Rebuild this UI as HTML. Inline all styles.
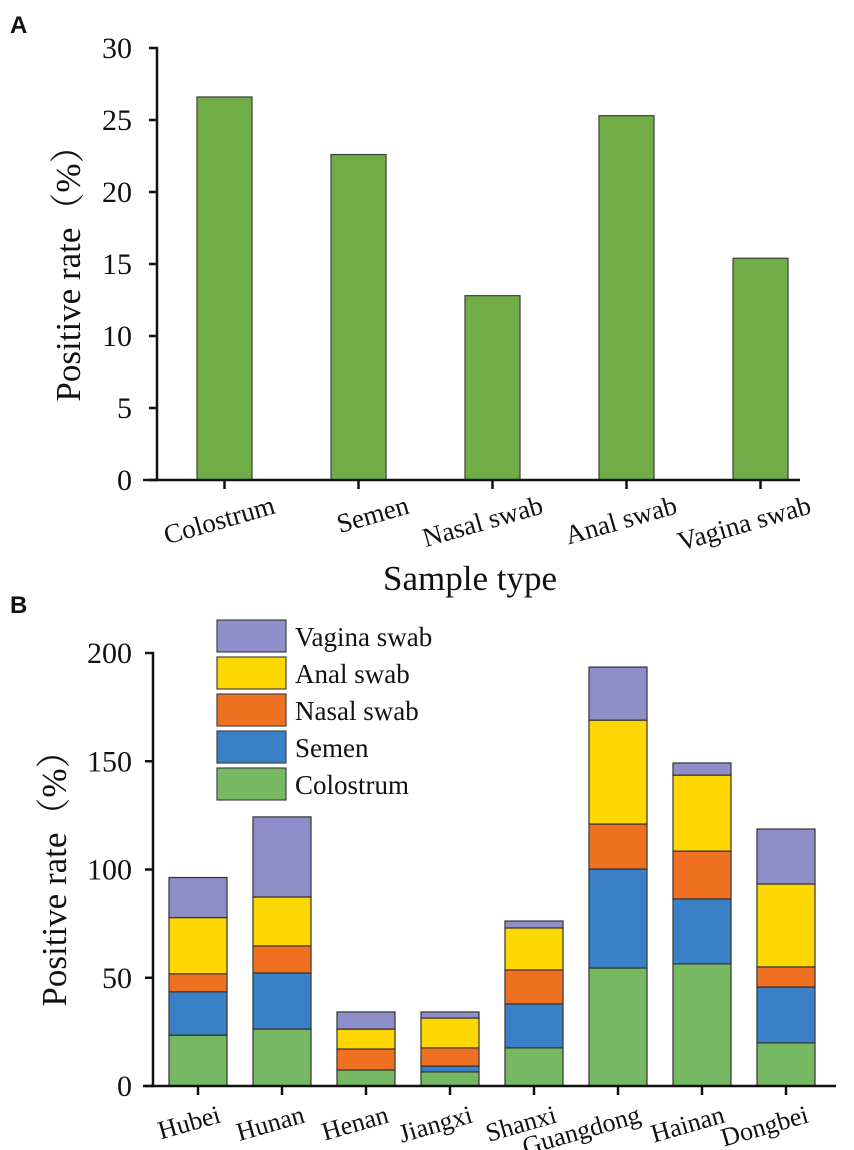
<!DOCTYPE html>
<html><head><meta charset="utf-8"><style>
body{margin:0;background:#fff;width:854px;height:1150px;overflow:hidden}
svg{display:block}
text{font-family:"Liberation Serif","Noto Serif CJK SC",serif;fill:#111}
</style></head><body>
<svg id="s" width="854" height="1150">
<text x="10" y="33" style="font-family:'Liberation Sans',sans-serif;font-weight:bold;font-size:24px">A</text>
<text x="10" y="613" style="font-family:'Liberation Sans',sans-serif;font-weight:bold;font-size:24px">B</text>
<text transform="translate(80,265) rotate(-90)" text-anchor="middle" font-size="35">Positive rate（%）</text>
<text x="470" y="590" text-anchor="middle" font-size="35">Sample type</text>
<text transform="translate(66,870) rotate(-90)" text-anchor="middle" font-size="35">Positive rate（%）</text>
<g id="ga"></g><g id="gb"></g><g id="lg"></g>
</svg>
<script>
const catsA=["Colostrum","Semen","Nasal swab","Anal swab","Vagina swab"];
const valsA=[26.6,22.6,12.8,25.3,15.4];
const ticksA=[0,5,10,15,20,25,30];
const catsB=["Hubei","Hunan","Henan","Jiangxi","Shanxi","Guangdong","Hainan","Dongbei"];
const colostrum=[23.5,26.3,7.4,6.5,17.6,54.5,56.4,19.9];
const semen=[20,25.9,0,2.7,20.3,45.7,30,25.8];
const nasal=[8.3,12.5,9.7,8.4,15.7,20.8,22.1,9.3];
const anal=[26,22.6,9.2,13.8,19.4,48,35.1,38.3];
const vagina=[18.5,37,7.9,2.8,3.2,24.5,5.6,25.4];
const seriesNames=["Colostrum","Semen","Nasal swab","Anal swab","Vagina swab"];
const ticksB=[0,50,100,150,200];
const NS="http://www.w3.org/2000/svg";
function mk(p,t,a){const e=document.createElementNS(NS,t);for(const k in a)e.setAttribute(k,a[k]);p.appendChild(e);return e;}
// Chart A
const ga=document.getElementById('ga');
const yA=v=>480-v*14.4, xA=i=>224.5+i*134;
ticksA.forEach(t=>{const l=mk(ga,'line',{x1:149,x2:158,y1:yA(t),y2:yA(t),stroke:'#111','stroke-width':2.5});

const tx=mk(ga,'text',{x:132,y:yA(t)+10,'text-anchor':'end','font-size':30});tx.textContent=t;
});
valsA.forEach((v,i)=>{const r=mk(ga,'rect',{x:xA(i)-27.5,y:yA(v),width:55,height:480-yA(v),fill:'#70ad47',stroke:'#3d3d3d','stroke-width':1.2});

const tk=mk(ga,'line',{x1:xA(i),x2:xA(i),y1:480,y2:489,stroke:'#111','stroke-width':2.5});

const tx=mk(ga,'text',{transform:`translate(${xA(i)+52},${513}) rotate(-16)`,'text-anchor':'end','font-size':27});tx.textContent=catsA[i];
});
let ax=mk(ga,'line',{x1:157,x2:157,y1:47,y2:481,stroke:'#111','stroke-width':2.5});

ax=mk(ga,'line',{x1:143,x2:800,y1:480,y2:480,stroke:'#111','stroke-width':2.5});

// Chart B
const gb=document.getElementById('gb');
const yB=v=>1086-v*2.165, xB=i=>198+i*84;
const colors=['#77b862','#3a80c6','#f07021','#ffd700','#8e8fc9'];
const data=[colostrum,semen,nasal,anal,vagina];
ticksB.forEach(t=>{const l=mk(gb,'line',{x1:145,x2:154,y1:yB(t),y2:yB(t),stroke:'#111','stroke-width':2.5});

const tx=mk(gb,'text',{x:132,y:yB(t)+10,'text-anchor':'end','font-size':30});tx.textContent=t;
});
catsB.forEach((c,i)=>{let acc=0;
data.forEach((s,k)=>{const v=s[i];if(v<=0)return;const r=mk(gb,'rect',{x:xB(i)-29,y:yB(acc+v),width:58,height:v*2.165,fill:colors[k],stroke:'#333','stroke-width':1.2});
acc+=v;});
const tk=mk(gb,'line',{x1:xB(i),x2:xB(i),y1:1086,y2:1095,stroke:'#111','stroke-width':2.5});

const tx=mk(gb,'text',{transform:`translate(${xB(i)+24},${1122}) rotate(-16)`,'text-anchor':'end','font-size':26});tx.textContent=c;
});
ax=mk(gb,'line',{x1:153,x2:153,y1:652,y2:1087,stroke:'#111','stroke-width':2.5});

ax=mk(gb,'line',{x1:143,x2:836,y1:1086,y2:1086,stroke:'#111','stroke-width':2.5});

// Legend
const lg=document.getElementById('lg');
for(let k=4;k>=0;k--){const row=4-k;const y=620+row*37;
const r=mk(lg,'rect',{x:217,y:y,width:69,height:32,fill:colors[k],stroke:'#444','stroke-width':1.2});

const t=mk(lg,'text',{x:295,y:y+26,'font-size':27});t.textContent=seriesNames[k];
}
</script>
</body></html>
